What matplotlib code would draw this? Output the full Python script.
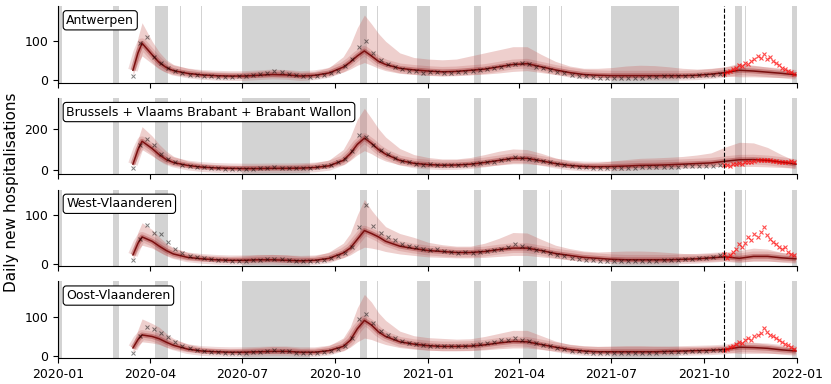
import numpy as np
import pandas as pd
import matplotlib
matplotlib.use("Agg")
import matplotlib.pyplot as plt
import matplotlib.dates as mdates

# model knots (median, 95% lower, 95% upper)
model_dates = ['2020-03-15', '2020-03-20', '2020-03-24', '2020-04-03', '2020-04-10', '2020-04-17',
               '2020-04-24', '2020-05-08', '2020-05-22', '2020-06-05', '2020-06-19', '2020-07-03',
               '2020-07-17', '2020-07-31', '2020-08-14', '2020-08-28', '2020-09-11', '2020-09-25',
               '2020-10-09', '2020-10-16', '2020-10-23', '2020-10-30', '2020-11-06', '2020-11-13',
               '2020-11-20', '2020-12-04', '2020-12-18', '2021-01-01', '2021-01-15', '2021-01-29',
               '2021-02-12', '2021-02-26', '2021-03-12', '2021-03-26', '2021-04-09', '2021-04-23',
               '2021-05-07', '2021-05-21', '2021-06-04', '2021-06-18', '2021-07-02', '2021-07-16',
               '2021-07-30', '2021-08-13', '2021-08-27', '2021-09-10', '2021-09-24', '2021-10-08',
               '2021-10-22', '2021-11-05', '2021-11-19', '2021-12-03', '2021-12-17', '2021-12-31']

ant_med = [25, 70, 95, 65, 45, 32, 24, 17, 13, 11, 10, 10, 12, 14, 13, 10, 12, 18,
           33, 46, 62, 75, 62, 48, 40, 30, 26, 23, 21, 22, 25, 28, 34, 40, 42, 34,
           26, 19, 14, 12, 11, 11, 11, 11, 11, 11, 12, 15, 19, 25, 23, 20, 17, 13]
ant_lo = [12, 45, 62, 42, 28, 20, 14, 9, 7, 5, 5, 5, 6, 7, 6, 5, 6, 10,
          20, 28, 38, 45, 38, 30, 24, 17, 14, 12, 11, 12, 13, 15, 18, 22, 24, 19,
          14, 10, 7, 6, 5, 5, 5, 5, 5, 5, 6, 8, 10, 8, 8, 7, 6, 5]
ant_hi = [35, 110, 148, 100, 72, 52, 40, 30, 24, 21, 20, 20, 23, 26, 25, 20, 22, 32,
          60, 90, 135, 168, 145, 120, 100, 70, 58, 54, 52, 54, 62, 70, 78, 86, 86, 66,
          48, 36, 30, 30, 32, 36, 38, 37, 34, 30, 28, 30, 34, 43, 38, 33, 28, 22]

bru_med = [30, 100, 140, 105, 75, 52, 38, 24, 16, 12, 10, 9, 9, 10, 10, 11, 14, 22,
           48, 80, 125, 155, 130, 100, 78, 48, 34, 28, 25, 26, 30, 38, 48, 58, 58, 46,
           33, 24, 19, 18, 19, 21, 24, 25, 27, 30, 33, 36, 44, 51, 52, 48, 40, 30]
bru_lo = [15, 65, 100, 70, 48, 32, 22, 13, 8, 6, 5, 4, 4, 5, 5, 5, 7, 12,
          28, 48, 75, 95, 80, 60, 45, 27, 19, 15, 13, 14, 16, 20, 26, 32, 32, 26,
          18, 13, 10, 9, 9, 10, 12, 12, 13, 15, 16, 18, 20, 19, 19, 17, 14, 11]
bru_hi = [45, 150, 210, 165, 125, 92, 68, 45, 34, 28, 25, 25, 26, 28, 28, 30, 36, 50,
          100, 160, 245, 298, 250, 200, 160, 105, 76, 62, 55, 55, 62, 76, 92, 103, 100, 82,
          60, 45, 37, 38, 45, 52, 58, 60, 63, 67, 74, 84, 112, 135, 132, 110, 75, 45]

wvl_med = [18, 42, 55, 46, 36, 27, 20, 13, 10, 8, 7, 7, 8, 8, 7, 6, 7, 11,
           22, 32, 50, 68, 62, 55, 46, 36, 31, 27, 25, 23, 23, 25, 29, 32, 32, 27,
           21, 17, 13, 11, 9, 8, 8, 8, 8, 9, 10, 12, 14, 11, 15, 15, 12, 10]
wvl_lo = [8, 28, 38, 32, 24, 17, 12, 7, 5, 4, 3, 3, 3, 4, 3, 3, 3, 5,
          12, 18, 27, 34, 32, 29, 25, 20, 17, 14, 13, 12, 12, 13, 15, 17, 17, 14,
          11, 8, 6, 5, 4, 4, 4, 3, 3, 4, 4, 5, 6, 4, 5, 5, 4, 3]
wvl_hi = [28, 65, 84, 70, 55, 42, 33, 23, 18, 16, 15, 16, 18, 19, 18, 15, 16, 24,
          42, 62, 100, 132, 110, 92, 76, 62, 54, 44, 39, 36, 36, 42, 52, 64, 63, 50,
          38, 31, 26, 24, 25, 26, 26, 25, 23, 21, 20, 21, 23, 27, 32, 30, 23, 18]

ovl_med = [20, 42, 54, 50, 44, 35, 27, 17, 12, 10, 9, 9, 10, 11, 11, 9, 9, 13,
           24, 40, 70, 92, 80, 62, 50, 36, 30, 26, 24, 24, 25, 28, 33, 37, 36, 29,
           22, 16, 12, 10, 10, 10, 10, 10, 11, 12, 13, 14, 16, 22, 21, 19, 15, 12]
ovl_lo = [8, 26, 36, 33, 29, 22, 17, 10, 6, 5, 4, 4, 5, 5, 5, 4, 4, 6,
          13, 22, 36, 46, 42, 35, 29, 21, 17, 14, 13, 13, 13, 15, 18, 20, 20, 16,
          12, 8, 6, 5, 5, 5, 5, 5, 5, 6, 6, 7, 8, 6, 6, 6, 5, 4]
ovl_hi = [30, 68, 96, 84, 74, 58, 45, 30, 22, 19, 18, 19, 21, 24, 23, 19, 20, 26,
          46, 75, 125, 160, 140, 112, 92, 64, 52, 47, 45, 43, 44, 50, 58, 66, 66, 52,
          38, 29, 25, 24, 25, 26, 26, 25, 24, 24, 24, 25, 26, 36, 34, 30, 25, 19]

# weekly observations up to the forecast date
obs_dates = pd.date_range('2020-03-15', '2021-10-17', freq='7D')
ant_obs = [10, 95, 110, 60, 45, 30, 22, 18, 14, 12, 10, 9, 8, 7, 8, 9, 10, 12, 15, 18, 22,
           20, 16, 12, 9, 8, 10, 14, 18, 24, 35, 55, 85, 100, 70, 52, 40, 33, 27, 24, 22, 19,
           21, 20, 18, 19, 21, 20, 24, 26, 28, 30, 34, 38, 42, 45, 40, 34, 30, 25, 20, 17,
           14, 11, 9, 7, 5, 4, 4, 4, 5, 5, 6, 7, 8, 9, 9, 10, 10, 11, 12, 13, 14, 16]
bru_obs = [10, 120, 150, 120, 80, 55, 38, 28, 22, 17, 14, 12, 10, 9, 8, 8, 8, 9, 10, 12, 14,
           12, 11, 10, 11, 13, 16, 20, 28, 38, 55, 95, 170, 160, 120, 100, 80, 60, 45, 38, 33, 28,
           30, 27, 25, 26, 28, 27, 30, 34, 38, 42, 48, 55, 62, 60, 55, 50, 44, 38, 32, 27,
           22, 18, 15, 13, 11, 10, 10, 11, 12, 13, 14, 14, 15, 16, 17, 18, 19, 20, 21, 22, 23, 25]
wvl_obs = [8, 50, 80, 62, 60, 45, 30, 22, 16, 14, 12, 10, 8, 7, 6, 6, 6, 7, 8, 9, 10,
           9, 8, 6, 5, 5, 6, 8, 11, 16, 22, 35, 75, 120, 78, 62, 55, 48, 40, 36, 35, 30,
           28, 30, 26, 24, 22, 25, 22, 24, 27, 28, 30, 35, 40, 36, 32, 28, 26, 22, 18, 15,
           12, 10, 8, 7, 6, 5, 5, 5, 5, 5, 6, 6, 6, 7, 7, 8, 9, 10, 11, 12, 14, 18]
ovl_obs = [6, 50, 75, 70, 60, 48, 35, 26, 20, 15, 12, 10, 9, 8, 7, 7, 8, 9, 10, 12, 14,
           13, 11, 8, 7, 6, 7, 9, 12, 16, 24, 45, 95, 110, 85, 65, 55, 45, 38, 33, 30, 27,
           26, 25, 24, 26, 25, 24, 28, 30, 32, 35, 40, 42, 45, 42, 38, 33, 28, 24, 20, 16,
           13, 11, 9, 8, 7, 6, 6, 6, 6, 7, 7, 8, 8, 9, 9, 10, 10, 11, 12, 13, 14, 15]

# observations after the forecast date (red)
new_dates = pd.date_range('2021-10-21', '2021-12-31', freq='3D')
ant_new = [15, 20, 22, 28, 30, 38, 35, 45, 42, 50, 55, 62, 58, 68, 55, 60, 48, 45, 38, 32, 28, 22, 20, 15]
bru_new = [25, 28, 22, 30, 32, 35, 30, 38, 40, 42, 45, 48, 50, 52, 48, 50, 46, 44, 42, 40, 38, 42, 45, 40]
wvl_new = [20, 12, 18, 25, 30, 40, 35, 42, 55, 48, 60, 55, 65, 75, 58, 50, 45, 40, 35, 30, 35, 25, 20, 18]
ovl_new = [15, 18, 22, 25, 30, 35, 33, 40, 45, 42, 50, 55, 60, 72, 62, 55, 50, 45, 40, 35, 30, 28, 22, 18]

regions = ['Antwerpen', 'Brussels + Vlaams Brabant + Brabant Wallon', 'West-Vlaanderen', 'Oost-Vlaanderen']
ylims = [(-7, 191), (-19, 348), (-5, 152), (-6, 194)]
yticks = [[0, 100], [0, 200], [0, 100], [0, 100]]

holidays = [('2019-12-23', '2020-01-05'), ('2020-02-24', '2020-03-01'), ('2020-04-06', '2020-04-19'),
            ('2020-05-01', '2020-05-02'), ('2020-05-21', '2020-05-22'), ('2020-07-01', '2020-09-06'),
            ('2020-10-26', '2020-11-02'), ('2020-11-11', '2020-11-12'), ('2020-12-21', '2021-01-03'),
            ('2021-02-15', '2021-02-22'), ('2021-04-05', '2021-04-19'), ('2021-05-01', '2021-05-02'),
            ('2021-05-13', '2021-05-14'), ('2021-07-01', '2021-09-06'), ('2021-11-01', '2021-11-08'),
            ('2021-11-11', '2021-11-12'), ('2021-12-27', '2022-01-09')]
forecast_start = '2021-10-21'

model = [(ant_med, ant_lo, ant_hi), (bru_med, bru_lo, bru_hi), (wvl_med, wvl_lo, wvl_hi), (ovl_med, ovl_lo, ovl_hi)]
obs = [ant_obs, bru_obs, wvl_obs, ovl_obs]
new = [ant_new, bru_new, wvl_new, ovl_new]

md = pd.to_datetime(model_dates)

fig, axes = plt.subplots(4, 1, figsize=(8.31, 3.84), dpi=100, sharex=True)
fig.subplots_adjust(left=0.07, right=0.959, top=0.984, bottom=0.068, hspace=0.2)

for i, ax in enumerate(axes):
    for s, e in holidays:
        ax.axvspan(pd.Timestamp(s), pd.Timestamp(e), color='#d3d3d3', lw=0, zorder=0)
    med, lo, hi = model[i]
    ax.fill_between(md, lo, hi, color='#c8605c', alpha=0.3, lw=0, zorder=1)
    # layered core of the ensemble
    ax.plot(md, med, color='#b03030', lw=7, alpha=0.18, solid_capstyle='butt', zorder=2)
    ax.plot(md, med, color='#961b1b', lw=3.5, alpha=0.35, solid_capstyle='butt', zorder=2)
    ax.plot(md, med, color='#7a0f0f', lw=1.1, zorder=3)
    ax.plot(obs_dates, obs[i], 'x', color='black', ms=3, mew=0.7, alpha=0.5, zorder=4)
    ax.plot(new_dates, new[i], 'x', color='red', ms=3.5, mew=0.8, alpha=0.7, zorder=4)
    ax.axvline(pd.Timestamp(forecast_start), color='black', ls='--', lw=0.8, zorder=5)

    ax.set_ylim(*ylims[i])
    ax.set_yticks(yticks[i])
    ax.spines['top'].set_visible(False)
    ax.spines['right'].set_visible(False)
    ax.tick_params(labelsize=9)
    ax.text(0.011, 0.90, regions[i], transform=ax.transAxes, ha='left', va='top', fontsize=9,
            bbox=dict(boxstyle='round,pad=0.25', fc='white', ec='black', lw=0.8), zorder=6)

axes[-1].set_xlim(pd.Timestamp('2020-01-01'), pd.Timestamp('2022-01-01'))
axes[-1].xaxis.set_major_locator(mdates.MonthLocator(bymonth=[1, 4, 7, 10]))
axes[-1].xaxis.set_major_formatter(mdates.DateFormatter('%Y-%m'))
fig.text(0.014, 0.5, 'Daily new hospitalisations', rotation=90, va='center', ha='center', fontsize=11)

fig.savefig('out.png', dpi=100)
